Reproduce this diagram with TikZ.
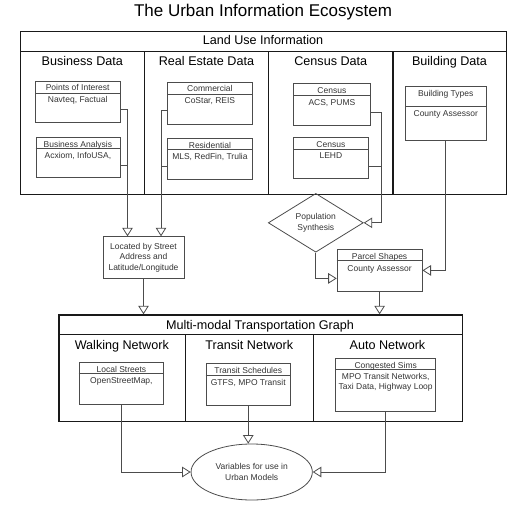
\documentclass[tikz,border=0pt]{standalone}
\usepackage{fontspec}
\setmainfont{Liberation Sans}
\usepackage{tikz}
\usetikzlibrary{arrows.meta,shapes.geometric}

\begin{document}
\begin{tikzpicture}[x=1pt, y=-1pt,
  frame/.style={draw=black!90, line width=1.3pt},
  box/.style={draw=black!70, line width=0.8pt, anchor=north west, inner sep=0pt},
  big/.style={font=\fontsize{12.6}{15}\selectfont, anchor=base, inner sep=0pt},
  small/.style={font=\fontsize{8.5}{10.7}\selectfont, text=black!80, align=center, inner sep=0pt},
  link/.style={draw=black!70, line width=0.8pt},
  flow/.style={link, -{Triangle[open, length=8.5pt, width=10.5pt]}}]
  \useasboundingbox (0,0) rectangle (520,504);

  \node[font=\fontsize{17}{20}\selectfont, anchor=base, inner sep=0pt] (title) at (263,16.7) {The Urban Information Ecosystem};

  % land use block
  \node[frame, anchor=north west, minimum width=486pt, minimum height=162.5pt] (landuse) at (20,31) {};
  \draw[frame] (20,51.5) -- (506,51.5);
  \foreach \x in {144.5, 268.5, 393} \draw[frame] (\x,51.5) -- (\x,193.5);
  \node[big] (landuse-t) at (263,44.3) {Land Use Information};
  \node[big] (biz-t) at (82.3,65.8) {Business Data};
  \node[big] (re-t) at (206.5,65.8) {Real Estate Data};
  \node[big] (cen-t) at (330.8,65.8) {Census Data};
  \node[big] (bld-t) at (449.5,65.8) {Building Data};

  \node[box, minimum width=84.5pt, minimum height=41.5pt] (poi) at (35,80.5) {};
  \draw[link] ([yshift=-12.5pt]poi.north west) -- ([yshift=-12.5pt]poi.north east);
  \node[small, anchor=base] (poi-h) at ([yshift=-10.4pt]poi.north) {Points of Interest};
  \node[small, anchor=base] (poi-b) at ([yshift=-22.2pt]poi.north) {Navteq, Factual};

  \node[box, minimum width=84pt, minimum height=40pt] (ba) at (35.5,137) {};
  \draw[link] ([yshift=-11.5pt]ba.north west) -- ([yshift=-11.5pt]ba.north east);
  \node[small, anchor=base] (ba-h) at ([yshift=-10.4pt]ba.north) {Business Analysis};
  \node[small, anchor=base] (ba-b) at ([yshift=-21.2pt]ba.north) {Acxiom, InfoUSA,};

  \node[box, minimum width=85pt, minimum height=42pt] (comm) at (167,81.5) {};
  \draw[link] ([yshift=-12.5pt]comm.north west) -- ([yshift=-12.5pt]comm.north east);
  \node[small, anchor=base] (comm-h) at ([yshift=-10.4pt]comm.north) {Commercial};
  \node[small, anchor=base] (comm-b) at ([yshift=-22.2pt]comm.north) {CoStar, REIS};

  \node[box, minimum width=85pt, minimum height=41pt] (res) at (167,138) {};
  \draw[link] ([yshift=-11.5pt]res.north west) -- ([yshift=-11.5pt]res.north east);
  \node[small, anchor=base] (res-h) at ([yshift=-10.4pt]res.north) {Residential};
  \node[small, anchor=base] (res-b) at ([yshift=-21.2pt]res.north) {MLS, RedFin, Trulia};

  \node[box, minimum width=77pt, minimum height=41.7pt] (acs) at (293,83.3) {};
  \draw[link] ([yshift=-12pt]acs.north west) -- ([yshift=-12pt]acs.north east);
  \node[small, anchor=base] (acs-h) at ([yshift=-10.4pt]acs.north) {Census};
  \node[small, anchor=base] (acs-b) at ([yshift=-21.7pt]acs.north) {ACS, PUMS};

  \node[box, minimum width=75pt, minimum height=41.6pt] (lehd) at (293,136.7) {};
  \draw[link] ([yshift=-12.3pt]lehd.north west) -- ([yshift=-12.3pt]lehd.north east);
  \node[small, anchor=base] (lehd-h) at ([yshift=-10.4pt]lehd.north) {Census};
  \node[small, anchor=base] (lehd-b) at ([yshift=-22pt]lehd.north) {LEHD};

  \node[box, minimum width=80.7pt, minimum height=54pt] (bt) at (405,86) {};
  \draw[link] ([yshift=-20.7pt]bt.north west) -- ([yshift=-20.7pt]bt.north east);
  \node[small, anchor=base] (bt-h) at ([yshift=-10.2pt]bt.north) {Building Types};
  \node[small, anchor=base] (bt-b) at ([yshift=-30.1pt]bt.north) {County Assessor};

  % between the blocks
  \node[draw=black!70, line width=0.8pt, small, minimum width=81pt, minimum height=42pt] (located) at (143.5,257.7)
    {Located by Street\\Address and\\Latitude/Longitude};
  \node[draw=black!70, line width=0.8pt, small, diamond, minimum width=95pt, minimum height=42.3pt] (popsyn) at (315.8,222.8)
    {Population\\Synthesis};

  \node[box, minimum width=85pt, minimum height=41.4pt] (parcel) at (336.7,249.3) {};
  \draw[link] ([yshift=-11.4pt]parcel.north west) -- ([yshift=-11.4pt]parcel.north east);
  \node[small, anchor=base] (parcel-h) at ([yshift=-10.4pt]parcel.north) {Parcel Shapes};
  \node[small, anchor=base] (parcel-b) at ([yshift=-21.8pt]parcel.north) {County Assessor};

  % transportation block
  \node[frame, anchor=north west, minimum width=403.4pt, minimum height=106.4pt] (transport) at (58.3,314.3) {};
  \draw[frame] (58.3,334.7) -- (461.7,334.7);
  \foreach \x in {185.3, 313.3} \draw[frame] (\x,334.7) -- (\x,420.7);
  \node[big] (transport-t) at (260,329) {Multi-modal Transportation Graph};
  \node[big] (walk-t) at (121.8,349.3) {Walking Network};
  \node[big] (transit-t) at (249.3,349.3) {Transit Network};
  \node[big] (auto-t) at (387.5,349.3) {Auto Network};

  \node[box, minimum width=84.6pt, minimum height=42pt] (ls) at (78.7,361.7) {};
  \draw[link] ([yshift=-11.6pt]ls.north west) -- ([yshift=-11.6pt]ls.north east);
  \node[small, anchor=base] (ls-h) at ([yshift=-10.4pt]ls.north) {Local Streets};
  \node[small, anchor=base] (ls-b) at ([yshift=-22pt]ls.north) {OpenStreetMap,};

  \node[box, minimum width=84.3pt, minimum height=42pt] (ts) at (205.7,363.3) {};
  \draw[link] ([yshift=-11.7pt]ts.north west) -- ([yshift=-11.7pt]ts.north east);
  \node[small, anchor=base] (ts-h) at ([yshift=-10.4pt]ts.north) {Transit Schedules};
  \node[small, anchor=base] (ts-b) at ([yshift=-22pt]ts.north) {GTFS, MPO Transit};

  \node[box, minimum width=100pt, minimum height=53pt] (cs) at (335.3,357.7) {};
  \draw[link] ([yshift=-11.6pt]cs.north west) -- ([yshift=-11.6pt]cs.north east);
  \node[small, anchor=base] (cs-h) at ([yshift=-10.4pt]cs.north) {Congested Sims};
  \node[small, anchor=north] (cs-b) at ([yshift=-15.1pt]cs.north) {MPO Transit Networks,\\Taxi Data, Highway Loop};

  \node[draw=black!70, line width=0.8pt, small, ellipse, minimum width=121.3pt, minimum height=56pt] (vars) at (251.7,472)
    {Variables for use in\\Urban Models};

  % connectors
  \coordinate (bizx) at (127.5,0);
  \coordinate (resx) at (161,0);
  \coordinate (censx) at (381,0);
  \draw[link] ([yshift=-8pt]poi.east) -| ([yshift=-8pt]bizx |- ba.east);
  \draw[flow] ([yshift=-8pt]ba.east) -| (bizx |- located.north);
  \draw[link] ([yshift=-7.5pt]comm.west) -| ([yshift=-7.5pt]resx |- res.west);
  \draw[flow] ([yshift=-7.5pt]res.west) -| (resx |- located.north);
  \draw[link] ([yshift=-8pt]acs.east) -| ([yshift=-8pt]censx |- lehd.east);
  \draw[flow] ([yshift=-8pt]lehd.east) -| (censx |- popsyn.east) -- (popsyn.east);
  \draw[flow] (bt.south) |- (parcel.east);
  \draw[flow] (popsyn.south) |- ([yshift=-8pt]parcel.west);
  \path
  (located.south) edge[flow] (located.south |- transport.north)
  (parcel.south) edge[flow] (parcel.south |- transport.north)
  (ts.south) edge[flow] (ts.south |- vars.north);
  \draw[flow] (ls.south) |- (vars.west);
  \draw[flow] (cs.south) |- (vars.east);
\end{tikzpicture}
\end{document}
